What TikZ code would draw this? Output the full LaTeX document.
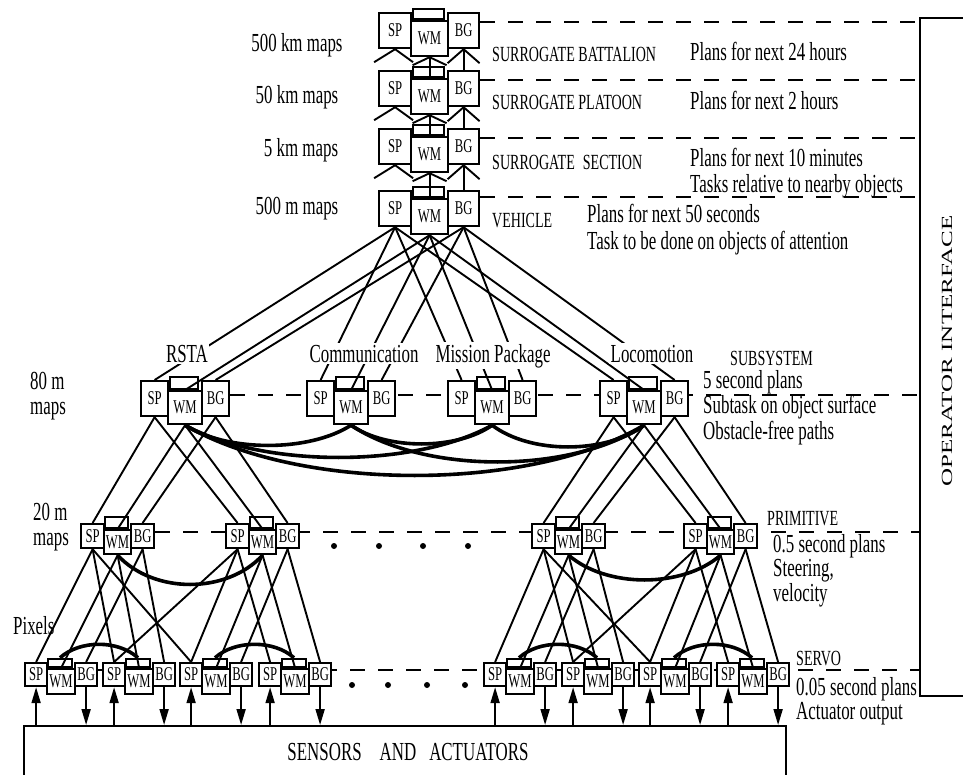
\documentclass[tikz,border=0pt]{standalone}
\usepackage{fontspec}
\usepackage{graphicx}
\setmainfont{Liberation Serif}[FakeStretch=0.65]
\newfontfamily\oifont{Liberation Serif}
\usetikzlibrary{arrows.meta,backgrounds}
\tikzset{
  sbox/.style={draw, line width=2.2pt, fill=white, inner sep=0pt, font=\fontsize{19.5}{19.5}\selectfont},
  tabbox/.style={draw, line width=2.2pt, inner sep=0pt},
  conn/.style={line width=1.9pt},
  arcl/.style={line width=3.6pt},
  dashl/.style={line width=2.6pt, dash pattern=on 15pt off 13pt},
  lbl/.style={font=\fontsize{26}{28}\selectfont, inner sep=0pt, anchor=base west},
  clbl/.style={font=\fontsize{26}{28}\selectfont, inner sep=0pt, anchor=base},
  caplbl/.style={font=\fontsize{21.6}{24}\selectfont, inner sep=0pt, anchor=base west},
  sublbl/.style={font=\fontsize{26}{28}\selectfont, fill=white, inner sep=1.5pt, anchor=base},
  arr/.style={line width=1.9pt, -{Triangle[length=16pt,width=9pt]}},
  dot/.style={circle, fill, inner sep=0pt, minimum size=6pt},
}
% multi-line text block: #1 line spacing, #2 lines
\newcommand{\mlines}[2]{\fontsize{26}{#1}\selectfont\begin{tabular}[t]{@{}l@{}}#2\end{tabular}}
% name, xsp, ytop, wsp, wwm, wbg, h, hwm, off
\newcommand{\mkgroup}[9]{%
  \node[sbox, minimum width=#4pt, minimum height=#7pt, anchor=north west] (#1-sp) at (#2,#3) {SP};
  \node[sbox, minimum width=#6pt, minimum height=#7pt, anchor=north west] (#1-bg) at ({#2+#4+#5},#3) {BG};
  \pgfmathsetmacro{\tabw}{#5-\tabinset*2}
  \node[tabbox, minimum width=\tabw pt, minimum height=\tabh pt, anchor=south] (#1-tab) at ({#2+#4+#5/2},{#3+#9}) {};
  \node[sbox, minimum width=#5pt, minimum height=#8pt, anchor=north west] (#1-wm) at ({#2+#4},{#3+#9}) {WM};
}
\begin{document}
\begin{tikzpicture}[x=1pt, y=-1pt]
\useasboundingbox (0,0) rectangle (963,775);
\clip (0,0) rectangle (963,775);

% level coordinates for dashed lines
\coordinate (d1) at (0,22);
\coordinate (d2) at (0,80);
\coordinate (d3) at (0,138);
\coordinate (d4) at (0,197);
\coordinate (d5) at (0,395);
\coordinate (d6) at (0,532);
\coordinate (d7) at (0,670);

% operator interface
\node[draw, line width=2pt, minimum width=61pt, minimum height=678pt, anchor=north west, inner sep=0pt] (oi) at (919,17) {};
\node[rotate=90, font={\oifont\fontsize{25}{25}\selectfont}, inner sep=0pt] (oitxt) at (947,351) {\scalebox{1}[0.62]{OPERATOR INTERFACE}};

% groups
\def\tabh{10}\def\tabinset{3}
\mkgroup{bat}{378}{12}{32}{37}{31}{35}{35}{8}
\mkgroup{pla}{378}{70}{32}{37}{31}{35}{35}{8}
\mkgroup{sec}{378}{128}{32}{37}{31}{35}{35}{8}
\mkgroup{veh}{378}{190}{32}{37}{31}{35}{35}{8}
\def\tabh{12}\def\tabinset{3}
\mkgroup{rsta}{140}{380}{27}{34}{27}{35}{33}{10}
\mkgroup{comm}{306}{380}{27}{34}{27}{35}{33}{10}
\mkgroup{mis}{447}{380}{27}{34}{27}{35}{33}{10}
\mkgroup{loco}{599}{380}{27}{34}{27}{35}{33}{10}
\def\tabh{11}\def\tabinset{2}
\mkgroup{pa}{80}{523}{23}{27}{23}{24}{24}{6}
\mkgroup{pb}{225}{523}{23}{27}{23}{24}{24}{6}
\mkgroup{pc}{531}{523}{23}{27}{23}{24}{24}{6}
\mkgroup{pd}{683}{523}{23}{27}{23}{24}{24}{6}
\def\tabh{8}\def\tabinset{2}
\mkgroup{sa}{24}{662}{22}{28}{22}{23}{25}{6}
\mkgroup{sb}{102}{662}{22}{28}{22}{23}{25}{6}
\mkgroup{sc}{179}{662}{22}{28}{22}{23}{25}{6}
\mkgroup{sd}{258}{662}{22}{28}{22}{23}{25}{6}
\mkgroup{se}{483}{662}{22}{28}{22}{23}{25}{6}
\mkgroup{sf}{561}{662}{22}{28}{22}{23}{25}{6}
\mkgroup{sg}{638}{662}{22}{28}{22}{23}{25}{6}
\mkgroup{sh}{716}{662}{22}{28}{22}{23}{25}{6}

% sensors and actuators
\node[draw, line width=2.2pt, fill=white, minimum width=762pt, minimum height=70pt, anchor=north west, inner sep=0pt] (sens) at (23,725) {};
\node[clbl] (senstxt) at (408,760) {SENSORS\hspace{18pt}AND\hspace{13pt}ACTUATORS};

\begin{pgfonlayer}{background}
  % dashed level lines
  \draw[dashl] (bat-bg.east |- d1) -- (oi.west |- d1);
  \draw[dashl] (pla-bg.east |- d2) -- (oi.west |- d2);
  \draw[dashl] (sec-bg.east |- d3) -- (oi.west |- d3);
  \draw[dashl] (veh-bg.east |- d4) -- (oi.west |- d4);
  \draw[dashl] (rsta-bg.east |- d5) -- (oi.west |- d5);
  \draw[dashl] (pa-bg.east |- d6) -- (oi.west |- d6);
  \draw[dashl] (sa-bg.east |- d7) -- (oi.west |- d7);
  % upper stubs
  \foreach \g in {bat,pla,sec} {
    \draw[conn] (\g-sp.south) -- +(-21,13);
    \draw[conn] (\g-sp.south) -- +(18,13);
    \draw[conn] (\g-wm.south) -- +(-17,8);
    \draw[conn] (\g-wm.south) -- +(17,8);
    \draw[conn] (\g-bg.south) -- +(-16,14);
    \draw[conn] (\g-bg.south) -- +(16,14);
  }
  \draw[conn] (bat-wm.south) -- (pla-wm.north);
  \draw[conn] (pla-wm.south) -- (sec-wm.north);
  \draw[conn] (sec-wm.south) -- (veh-wm.north);
  \draw[conn] (bat-bg.south) -- (pla-bg.north);
  \draw[conn] (pla-bg.south) -- (sec-bg.north);
  \draw[conn] (sec-bg.south) -- (veh-bg.north);
  % vehicle to subsystems
  \foreach \s in {rsta,comm,mis,loco} {
    \draw[conn] (veh-sp.south) -- (\s-sp.north);
    \draw[conn] (veh-wm.south) -- (\s-wm.north);
    \draw[conn] (veh-bg.south) -- (\s-bg.north);
  }
  % subsystems to primitive
  \foreach \c in {pa,pb} {
    \draw[conn] (rsta-sp.south) -- (\c-sp.north);
    \draw[conn] (rsta-wm.south) -- (\c-wm.north);
    \draw[conn] (rsta-bg.south) -- (\c-bg.north);
  }
  \foreach \c in {pc,pd} {
    \draw[conn] (loco-sp.south) -- (\c-sp.north);
    \draw[conn] (loco-wm.south) -- (\c-wm.north);
    \draw[conn] (loco-bg.south) -- (\c-bg.north);
  }
  % primitive to servo
  \foreach \p/\s in {pa/sa,pa/sb,pb/sc,pb/sd,pc/se,pc/sf,pd/sg,pd/sh} {
    \draw[conn] (\p-sp.south) -- (\s-sp.north);
    \draw[conn] (\p-wm.south) -- (\s-wm.north);
    \draw[conn] (\p-bg.south) -- (\s-bg.north);
  }
  \draw[conn] (pa-sp.south) -- (sc-sp.north);
  \draw[conn] (pb-sp.south) -- (sb-sp.north);
  \draw[conn] (pc-sp.south) -- (sg-sp.north);
  \draw[conn] (pd-sp.south) -- (sf-sp.north);
\end{pgfonlayer}

% lateral WM arcs
\draw[arcl] (rsta-wm.south) .. controls +(42,27) and +(-42,27) .. (comm-wm.south);
\draw[arcl] (comm-wm.south) .. controls +(35,25) and +(-35,25) .. (mis-wm.south);
\draw[arcl] (mis-wm.south) .. controls +(38,29) and +(-38,29) .. (loco-wm.south);
\draw[arcl] (rsta-wm.south) .. controls +(77,43) and +(-77,43) .. (mis-wm.south);
\draw[arcl] (comm-wm.south) .. controls +(73,49) and +(-73,49) .. (loco-wm.south);
\draw[arcl] (rsta-wm.south) .. controls +(115,67) and +(-115,67) .. (loco-wm.south);
\draw[arcl] (pa-wm.south) .. controls +(36,39) and +(-36,39) .. (pb-wm.south);
\draw[arcl] (pc-wm.south) .. controls +(38,33) and +(-38,33) .. (pd-wm.south);
\foreach \a/\b in {sa/sb,sc/sd,se/sf,sg/sh} {
  \draw[arcl] (\a-tab.north) .. controls +(20,-18) and +(-20,-18) .. (\b-tab.north);
}

% sensor arrows
\foreach \s in {sa,sb,sc,sd,se,sf,sg,sh} {
  \draw[arr] (sens.north -| \s-sp.south) -- (\s-sp.south);
  \draw[arr] (\s-bg.south) -- (sens.north -| \s-bg.south);
}

% dots
\node[dot] (dp1) at (334,546) {};
\node[dot] (dp2) at (379,546) {};
\node[dot] (dp3) at (423,546) {};
\node[dot] (dp4) at (468,546) {};
\node[dot] (ds1) at (352,685) {};
\node[dot] (ds2) at (388,685) {};
\node[dot] (ds3) at (427,685) {};
\node[dot] (ds4) at (465,685) {};

% subsystem labels
\node[sublbl] (lrsta) at (187,362) {RSTA};
\node[sublbl] (lcomm) at (364,362) {Communication};
\node[sublbl] (lmis) at (493,362) {Mission Package};
\node[sublbl] (lloco) at (652,362) {Locomotion};

% left labels
\node[clbl] (m1) at (297,52) {500 km maps};
\node[clbl] (m2) at (297,104) {50 km maps};
\node[clbl] (m3) at (301,157) {5 km maps};
\node[clbl] (m4) at (297,215) {500 m maps};
\node[lbl] (m5) at (30,389) {\mlines{25}{80 m\\maps}};
\node[lbl] (m6) at (33,520) {\mlines{25}{20 m\\maps}};
\node[lbl] (m7) at (13,634) {Pixels};

% right labels
\node[caplbl] (r1) at (492,62) {SURROGATE BATTALION};
\node[lbl] (r1b) at (690,61) {Plans for next 24 hours};
\node[caplbl] (r2) at (492,110) {SURROGATE PLATOON};
\node[lbl] (r2b) at (690,110) {Plans for next 2 hours};
\node[caplbl] (r3) at (492,170) {SURROGATE\hspace{8pt}SECTION};
\node[lbl] (r3b) at (690,167) {\mlines{25}{Plans for next 10 minutes\\Tasks relative to nearby objects}};
\node[caplbl] (r4) at (492,228) {VEHICLE};
\node[lbl] (r4b) at (587,223) {\mlines{27}{Plans for next 50 seconds\\Task to be done on objects of attention}};
\node[caplbl] (r5) at (730,365) {SUBSYSTEM};
\node[lbl] (r5b) at (703,388) {\mlines{25}{5 second plans\\Subtask on object surface\\Obstacle-free paths}};
\node[caplbl] (r6) at (767,525) {PRIMITIVE};
\node[lbl] (r6b) at (773,552) {\mlines{23}{0.5 second plans\\Steering,\\velocity}};
\node[caplbl] (r7) at (796,665) {SERVO};
\node[lbl] (r7b) at (796,695) {\mlines{24}{0.05 second plans\\Actuator output}};
\end{tikzpicture}
\end{document}
